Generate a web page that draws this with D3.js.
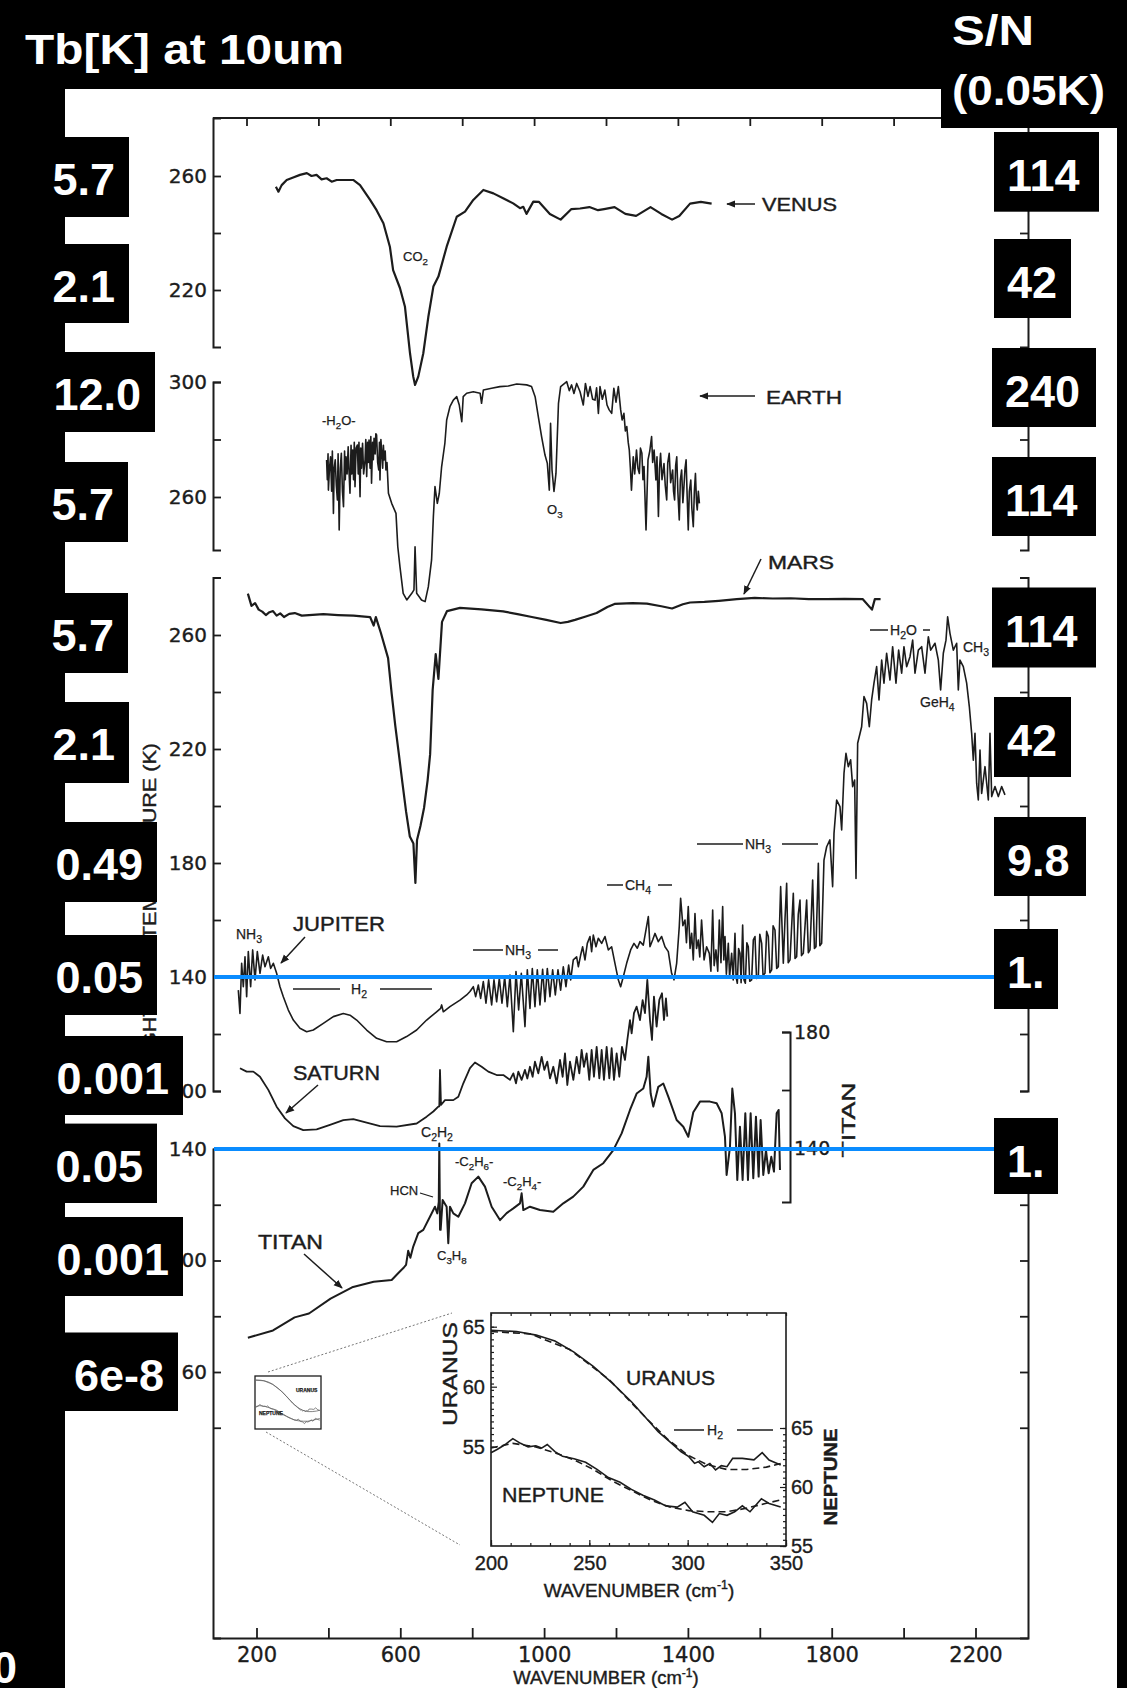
<!DOCTYPE html>
<html>
<head>
<meta charset="utf-8">
<script src="https://cdn.jsdelivr.net/npm/d3@7"></script>
<style>
  body { margin: 0; background: #000; }
  svg { display: block; }
</style>
</head>
<body>
<div id="container"></div>
<script>

// ---- spectra: [wavenumber (cm-1), brightness temperature (K)] ----
const venus = [[254,256.2],[261,254.5],[270,256.8],[284,258.6],[302,259.5],[321,260.4],[340,261],[353,260],[367,260.4],[381,258.8],[395,259.2],[409,258],[423,258.6],[469,258.6],[488,256.8],[516,251.6],[534,248],[553,243.4],[571,235.2],[580,227],[599,220.7],[613,214.1],[627,197.8],[636,189.6],[641,186.7],[650,189.6],[664,197.8],[678,210.6],[692,221.2],[706,224.7],[729,235.2],[757,245.7],[780,247.5],[803,251.6],[831,255.1],[859,253.9],[886,252.2],[914,250.4],[933,248.7],[942,249.2],[951,246.7],[970,251],[986,250.9],[1016,246.7],[1046,244.7],[1076,248.4],[1100,248.6],[1126,249.1],[1150,248],[1167,248.4],[1196,249.1],[1226,246.7],[1256,246],[1296,249.1],[1326,246.7],[1356,244.7],[1376,246],[1406,250.3],[1436,250.9],[1466,250.3]];

const earth = [[395,272.9],[397,266],[399,275],[400,262.4],[403,270],[406,274],[409,262],[411,276],[414,254.3],[416,270],[419,272.9],[422,264],[425,259],[427,275],[430,248.5],[433,270],[436,275.2],[439,262],[442,256.6],[445,276],[447,266],[449,274],[452,268],[455,277.5],[457,270],[460,261.3],[463,278],[465,268],[467.5,276.3],[470,266],[472,279],[474,263.6],[477,277],[480.5,278.1],[483,268],[485,279],[488,260.1],[490,277],[492,270],[495,278.7],[498,268],[502,272.9],[504,280],[506.5,267.1],[509,279],[511,272],[513,279.8],[516,270],[518,281],[520,264.8],[523,279],[525,273],[527,280.4],[530,275],[532,282],[534,281.6],[537,272],[540,269.4],[542,279],[543.5,265.9],[546,280],[548,276.3],[551,270],[553,278],[555,272.9],[558,276],[560,269.4],[563,272],[567,261.3],[576,257.8],[588,254.3],[593,242.7],[599,235.8],[608,226.5],[618,224.2],[632,226.5],[638,227.7],[641,242.7],[645.5,226.5],[659,224.2],[669,223.6],[678,228.8],[687,238.1],[692,253.2],[696.5,263.6],[703,257.8],[708.5,261.3],[715,270.6],[724,278.7],[729,286.8],[738,291.4],[747.5,293.7],[757,294.9],[764,292],[771,286.2],[775,294.9],[784.6,296.1],[803,296.6],[822,296.1],[826,292.6],[831,297.2],[854,297.8],[877,298.4],[900.5,298.6],[924,299.3],[951.5,299],[965,298.4],[975,294.9],[984,287.9],[993,281],[1002.5,274.6],[1009,271.7],[1014.5,262.4],[1018,285.6],[1022,269.4],[1027.5,261.9],[1033,268.2],[1040,292.6],[1046,298.4],[1063,300.1],[1070,297],[1076.5,299],[1083,296],[1090.6,299.5],[1100,296.6],[1109,292],[1115,299.5],[1122,295],[1128,298.4],[1135,294],[1141.6,293.7],[1146,298],[1151,289.1],[1155.5,298.4],[1162,294],[1169,297.2],[1175,292],[1181,290.3],[1188,289.1],[1194,297.8],[1200,293],[1206.5,298.4],[1213,290.3],[1217,286.8],[1222,289.1],[1226,283],[1230,284.5],[1234,279],[1237,276.3],[1240,270],[1243,262.4],[1248,274],[1252,268],[1257,276.3],[1261,270],[1265,268.2],[1268,277],[1272,275.2],[1275,266],[1278,270.6],[1283.5,248.5],[1289,272.9],[1294,276],[1299,281],[1302,272],[1306,276.3],[1311,265.9],[1314,274],[1318,253.2],[1321,270],[1324,275.2],[1328,266],[1333.5,271.6],[1337,264],[1341,259],[1344,272],[1348,275.2],[1352,265],[1357.6,269.4],[1360,262],[1363,259],[1366,271],[1369,274],[1372,262],[1376,252],[1379,266],[1382.6,269.4],[1386,258],[1389,263.6],[1392,270],[1395,272.9],[1398,260],[1401,248.5],[1404,262],[1408,265.9],[1411,256],[1415,249.7],[1418,262],[1421,268.2],[1424,258],[1426,255.5],[1429,262],[1432,257.8]];

const mars = [[176,274.5],[186,270.2],[196,271.2],[206,268.9],[216,268.2],[226,267],[236,268],[246,268.4],[256,266.8],[266,267.6],[276.5,266.3],[291,267.4],[306.5,267.7],[326,266.8],[346,267],[386,267.3],[427,267],[470,266.8],[516,266.3],[526,263.3],[532,266.3],[546,260.7],[566,251.9],[576,239.4],[586,228.2],[596,218.2],[606,208],[616,198.1],[626.5,189.3],[636.5,186.8],[642,173],[646.5,188.1],[656,193],[666,199.3],[676,209],[683,218.2],[690,240.7],[698.5,253.3],[706,244.6],[716,264.6],[730,268.4],[766,269.5],[826,269],[886,268.3],[926,267.3],[966,266.3],[1006,265.3],[1046,264.2],[1066,264.6],[1086,265.3],[1116,266.5],[1146,267.7],[1176,269.8],[1196,270.9],[1246,271.2],[1286,271],[1326,270.1],[1356,269.3],[1386,270.8],[1406,271.4],[1446,271.6],[1486,272],[1536,272.6],[1586,273],[1636,272.8],[1686,272.9],[1736,272.6],[1786,272.6],[1836,272.7],[1886,272.6],[1912,268.9],[1920,272.6],[1936,272.6]];

const jupiter = [[149.4,135.4],[154,127.2],[158.7,144.8],[163.3,136.6],[168,147.1],[172.6,133.1],[177.2,148.9],[183.7,136.6],[189.3,149.5],[195.8,139],[202.3,148.9],[209.7,141.3],[217.1,147.7],[223.6,143.6],[232.9,147.1],[239.3,143],[246.8,144.8],[256,141.3],[265.3,136.6],[274.6,133.1],[288.5,128.4],[302.4,124.9],[320.9,122],[339.5,120.8],[358,121.4],[385.9,123.7],[413.7,126.1],[441.5,127.2],[460,126.6],[478.6,124.9],[506.4,121.4],[534.2,118.5],[562,117.3],[589.8,117.3],[617.6,119.1],[645.5,121.4],[673.3,124.9],[701,127.8],[712.2,129],[715,130.2],[719.6,127.8],[738.2,129.6],[766,131.9],[784.6,133.7],[793.8,134.9],
  [803.1,136.6],[809.6,133.1],[817,137.2],[823.5,132.5],[830.9,138.4],[838.3,130.8],[845.7,139],[854.1,130.2],[860.6,139],[868,131.3],[875.4,139.5],[882.8,130.8],[890.3,140.1],[897.7,129.6],[905.1,140.7],[914.4,120.8],[921.8,141.9],[929.2,128.4],[936.6,141.3],[946.8,122.6],[953.3,142.5],[960.7,129],[967.2,143],[974.6,129.6],[981.1,142.5],[988.5,130.2],[995.9,142.7],[1002.4,131.3],[1008.9,143],[1016.3,133.1],[1023.8,142.5],[1031.2,133.7],[1038.6,142.5],[1046,135.4],[1053.4,143.6],[1060.8,136.6],[1068.3,144.2],[1073.9,139],[1081.2,146],[1090.5,147.1],[1095.2,143.6],[1101.7,147.7],[1107.2,150.6],[1113.7,146],[1120.2,151.8],[1127.6,154.2],[1132.2,148.9],[1136.9,154.7],[1144.3,150.6],[1150.8,153.6],[1160.1,151.8],[1169.3,154.2],[1178.6,149.5],[1187.9,150.6],[1197.1,144.8],[1206.4,139],[1212.9,136.6],[1220.3,140.1],[1229.6,144.8],[1240.7,149.5],[1250,151.8],[1259.3,150.1],[1266.7,152.4],[1275.9,151.2],[1283.4,156.5],[1289.9,161.2],[1294.5,150.6],[1301.9,153],[1308.4,155.3],[1317.7,152.4],[1326.9,154.2],[1336.2,150.6],[1345.5,148.9],[1354.7,141.3],[1361.3,139],[1368.7,144.8],[1376,157.7],[1379.8,167.6],
  [1386,158],[1391.9,160],[1396,152],[1401,164.7],[1406,150],[1410.4,155.3],[1415,146],[1419.7,162.3],[1424,150],[1429,153],[1433,147],[1438,160],[1445,146],[1452,150.6],[1459.6,148.3],[1464,142],[1468.9,163.5],[1473,144],[1478.1,149.5],[1483,142],[1487.4,160],[1492,145],[1496.7,164.7],[1500,146],[1503.2,154.2],[1507,141],[1512.4,151.8],[1516,140],[1521.7,148.3],[1526,139],[1531,155.3],[1534,140],[1537.5,137.8],[1541,150],[1544.9,148.3],[1548,138],[1552.3,158.2],[1556,139],[1559.8,137.8],[1564,152],[1568,150.6],[1572,138.5],[1577.3,139],[1582,153],[1586.6,154.2],[1591,139.5],[1595.9,140.1],[1600,155],[1605.2,151.8],[1609,140.5],[1614.4,141.3],[1619,156],[1623.7,154.2],[1628,141.5],[1633,142.5],[1637,158],[1642.2,156.5],[1647,143],[1651.5,143.6],[1658,171.7],[1665.4,144.8],[1670,160],[1674.7,172.9],[1679,145],[1684,146],[1693.2,169.4],[1698,146.5],[1702.5,147.1],[1707,162],[1711.8,167],[1716,147.5],[1721,148.3],[1730.3,167],[1735,148.5],[1739.6,149.5],[1747,174],[1752,150],[1756.3,150.6],[1762.8,179.9],[1767,151],[1772,151.8],[1778.5,181],[1786,185.7],[1795,188.1],[1802.6,171.7],[1806.4,190.4],[1813.8,202.1],[1823,199.8],[1827.7,191.6],[1834.2,211.5],[1839.7,218.5],[1846.2,213.8],[1852.7,216.2],[1858.3,206.8],[1863.8,209.1],[1867.6,174.6],[1872.2,222],[1883.3,227.8],[1889.8,238.4],[1897.2,236],[1904.6,227.8],[1911.1,237.2],[1917.6,243.1],[1925,248.9],[1931.6,237.2],[1939,251.2],[1945.4,243.1],[1952.8,253.6],[1962.1,244.2],[1969.5,255.9],[1978.8,243.1],[1986.2,254.7],[1994.6,246.6],[2001,255.9],[2008.5,248.9],[2017.8,252.4],[2025.2,258.2],[2031.7,246.6],[2041,254.7],[2050.2,255.9],[2059.5,246.6],[2068.8,259.4],[2075.3,254.7],[2087.3,257.1],[2096.6,251.2],[2103,240.7],[2110.5,253.6],[2117.9,258.2],[2122.5,266.4],[2129,260.6],[2138.3,254.7],[2147.6,257.1],[2152.2,240.7],[2156.8,251.2],[2166.1,248.9],[2175.4,243.1],[2182.8,234.9],[2189.3,225.5],[2193.9,216.1],[2198.6,225.5],[2203.2,208],[2207.8,202.1],[2212.5,219.6],[2217.1,204.4],[2226.4,213.8],[2235.7,202.1],[2240.3,225.5],[2245,203.3],[2254.2,206.8],[2263.5,203.3],[2272.8,206.8],[2282,203.9]];

// Saturn is read against the Jupiter temperature scale
const saturn = [[154,108],[172.6,106.8],[191.1,106.8],[209.7,105],[232.9,100.4],[256,94.5],[279.2,90.4],[302.4,87.7],[330.2,86.3],[367.3,86.5],[404.4,88.1],[441.5,89.8],[469.3,90.1],[506.4,88.9],[543.5,87.7],[589.8,87.5],[645.5,88.6],[673.3,91],[691.8,92.8],[705.7,94.5],[708.5,94.6],[710.4,107.4],[713.2,95.1],[724.3,96.8],[747.5,96.8],[761.4,98],[775.3,102.7],[793.8,108],[807.7,110],[826.3,108.5],[844.8,106.8],[868,105.6],[886.5,105.6],[905.1,103.9],
  [914.4,106.2],[921.8,102.7],[928.3,106.8],[937.5,103.9],[946.8,107.4],[953.3,104.4],[960.7,108.5],[968.1,105],[974.6,110.3],[983.9,106.2],[993.2,112],[1000.6,107.4],[1008.9,110.3],[1016.3,104.4],[1025.6,108.5],[1034.9,102.7],[1044.2,110.9],[1051.6,105],[1058.1,113.2],[1064.6,102.1],[1072,110.3],[1081.3,103.9],[1090.5,112],[1098,106.2],[1104.4,114.4],[1110.9,108.5],[1118.3,113.2],[1125.7,103.9],[1132.2,114.4],[1138.7,105],[1146.2,115.5],[1153.6,104.4],[1160.1,114.4],[1166.5,103.9],[1174,115.5],[1181.4,104.4],[1187.9,115],[1194.4,103.9],[1201.8,113.2],[1209.2,105],[1216.6,115.5],[1225,110.9],[1231.5,117.9],[1238.9,124.9],[1243.5,120.2],[1250,127.3],[1257.4,129.6],[1266.7,124.9],[1274.1,131.9],[1280.6,127.3],[1287.1,139],[1294.5,124.9],[1300.1,117.9],[1305.6,133.1],[1313,122.6],[1320.5,132],[1327.9,134.3],[1333.4,124.9],[1339,132.5],[1342.7,126.1]];

const titan = [[176,72.3],[246,74.9],[306,79.6],[346,81],[406,86.3],[466,90.4],[526,92.4],[576,93],[596,95.7],[610,97.5],[616,98.4],[622,103.5],[628,101],[636,105],[650,109.8],[664,111],[682.5,115.7],[696.5,119.3],[702.9,116.9],[707,121],[708.5,142],[710.5,111],[712.2,111],[717.8,121.7],[728.9,119.3],[733.5,106.2],[738.2,119.3],[747.5,116.9],[761.4,115.7],[779.9,120.5],[798.4,127.7],[817,130.1],[835.5,126.5],[854.1,119.3],[877.3,114.5],[895.8,117],[914.4,118.7],[932.9,120.5],[937.5,124.1],[942.2,118.1],[960.7,119.3],[988.5,118.1],[1025.6,117.5],[1053.4,120.5],[1081.2,122.9],[1109.1,126.5],[1136.9,132.5],[1164.7,134.9],[1192.5,139.6],[1215.7,145.6],[1238.9,154],[1257.4,159.9],[1276,161.7],[1285.2,165.9],[1289.9,173.1],[1296.4,159.9],[1303.8,155.2],[1317.7,162.3],[1331.6,163.5],[1345.5,158.8],[1368.7,150.4],[1387.2,148],[1401.1,144.4],[1415,153.2],[1433.6,157],[1461.4,157],[1480,156.4],[1493.9,152.8],[1503.1,144.4],[1507.7,130.7],[1517,140.8],[1523.5,161.7],[1530.9,152.8],[1537.4,128.9],[1544.8,148],[1552.2,128.9],[1559.7,152.8],[1567.1,128.9],[1574.5,152.8],[1581.9,129.5],[1589.3,151.6],[1596.8,130.1],[1602.3,150.4],[1609.7,130.7],[1617.2,139.6],[1624.6,131.3],[1632,137.2],[1639.4,131.9],[1646.9,152.8],[1652.4,154],[1656.1,132.5]];

// inset: Uranus / Neptune, observed and model
const uranusObs = [[200,64.7],[213,64.6],[223,64.3],[232.5,63.8],[242,62.9],[252,61.7],[261.7,60.3],[271.4,58.75],[281,57],[285,56.25],[291,55.4],[296.7,54.58],[300.6,54.17],[303.5,53.61],[305.4,53.75],[308.4,53.33],[311.3,53.6],[314.2,53.06],[317.1,53.42],[320,53.33],[322.9,54.03],[327.8,54.03],[333.7,53.9],[337.9,54.5],[341.4,53.89],[347.3,53.47]];
const uranusModel = [[200,64.6],[220,64.4],[240,63.1],[260,60.6],[280,57.2],[290,55.6],[300,54.3],[310,53.5],[320,53.1],[330,53.1],[340,53.3],[347.3,53.6]];
const neptuneObs = [[200,62.9],[203.3,63.2],[207.2,63.6],[211.1,64.1],[215,63.7],[218.9,63.4],[222.8,63.5],[225.7,63.3],[228.6,63.6],[232.5,63],[236.4,62.6],[242.2,62.4],[248.1,62.1],[253.9,61.5],[259.7,60.8],[265.6,60.4],[271.4,59.8],[277.2,59.3],[283.1,58.9],[288.9,58.4],[294.7,58.3],[298.6,58.7],[302.5,57.9],[308.4,57.6],[312.6,57],[316.1,57.75],[320,57.6],[323.9,57.9],[327.8,58.4],[331.7,57.9],[337.5,59],[341.4,58.6],[347.3,58.3]];
const neptuneModel = [[200,63.3],[211.1,63.7],[222.8,63.4],[232.5,62.9],[242.2,62.3],[251.9,61.5],[261.7,60.5],[271.4,59.7],[281.1,58.9],[290.9,58.3],[300.6,58],[310.3,57.9],[320,57.9],[329.8,58.2],[339.5,58.6],[347.3,58.9]];

// axis ticks
const xTicks = d3.range(200, 2201, 200);
const xLabels = [200, 600, 1000, 1400, 1800, 2200];
const insetXTicks = [200, 250, 300, 350];
const insetYTicks = [55, 60, 65];

// annotation boxes (values written beside the temperature tick labels)
const tbAt10um = ["5.7", "2.1", "12.0", "5.7", "5.7", "2.1", "0.49", "0.05", "0.001", "0.05", "0.001", "6e-8"];
const snRatio = ["114", "42", "240", "114", "114", "42", "9.8", "1.", "1."];

// ---- layout ----
const width = 1127, height = 1688;
const ink = "#1c1c1c";
const plotLeft = 213, plotRight = 1028, plotTop = 118, plotBottom = 1638;

const svg = d3.select("#container").append("svg")
    .attr("width", width)
    .attr("height", height);

svg.append("rect").attr("width", width).attr("height", height).attr("fill", "#000");
svg.append("rect").attr("x", 65).attr("y", 89).attr("width", 1052).attr("height", height - 89).attr("fill", "#fff");

const defs = svg.append("defs");
defs.append("marker")
    .attr("id", "head")
    .attr("viewBox", "0 0 10 10")
    .attr("refX", 9).attr("refY", 5)
    .attr("markerWidth", 6).attr("markerHeight", 6)
    .attr("orient", "auto")
  .append("path")
    .attr("d", "M0,1L10,5L0,9z")
    .attr("fill", ink);

// x scale: wavenumber
const x = d3.scaleLinear().domain([200, 2200]).range([256.5, 975.5]);
const xFrame = x.copy().domain([x.invert(plotLeft), x.invert(plotRight)]).range([plotLeft, plotRight]);

// y scales, one per stacked panel
const yVenus = d3.scaleLinear().domain([220, 260]).range([290, 176]);
const yEarth = d3.scaleLinear().domain([260, 300]).range([497, 382]);
const yJupiter = d3.scaleLinear().domain([100, 260]).range([1091, 635]);
const yTitan = d3.scaleLinear().domain([60, 140]).range([1372, 1149]);
const yTitanBracket = d3.scaleLinear().domain([140, 180]).range([1148, 1032]);

const segments = [
  { s: yVenus, top: plotTop, bottom: 347, ticks: [220, 240, 260], labels: [220, 260] },
  { s: yEarth, top: 382, bottom: 550, ticks: [260, 280, 300], labels: [260, 300] },
  { s: yJupiter, top: 577.5, bottom: 1091, ticks: d3.range(100, 261, 20), labels: [100, 140, 180, 220, 260] },
  { s: yTitan, top: 1149, bottom: plotBottom, ticks: d3.range(40, 141, 20), labels: [60, 100, 140] }
];

const fig = svg.append("g");

function styleAxis(g, size) {
  g.attr("font-family", "DejaVu Sans").attr("font-size", size).attr("color", ink);
  g.select(".domain").attr("stroke-width", 2);
  g.selectAll(".tick line").attr("stroke-width", 1.8);
  g.selectAll(".tick text").attr("stroke", ink).attr("stroke-width", 0.35);
  g.selectAll(".tick text").filter(function() { return this.textContent === ""; }).remove();
}

// left and right axes, drawn as separate bracketed segments
segments.forEach(seg => {
  const sc = seg.s.copy().domain([seg.s.invert(seg.bottom), seg.s.invert(seg.top)]).range([seg.bottom, seg.top]);
  fig.append("g")
      .attr("transform", `translate(${plotLeft},0)`)
      .call(d3.axisLeft(sc).tickValues(seg.ticks).tickSize(-8).tickSizeOuter(-8).tickPadding(6)
        .tickFormat(d => seg.labels.includes(d) ? d : ""))
      .call(g => styleAxis(g, 20));
  fig.append("g")
      .attr("transform", `translate(${plotRight},0)`)
      .call(d3.axisRight(sc).tickValues(seg.ticks).tickSize(-8).tickSizeOuter(-8).tickFormat(""))
      .call(g => styleAxis(g, 20));
});

// top frame line and its (slightly shifted) ticks
fig.append("line")
    .attr("x1", plotLeft).attr("x2", plotRight)
    .attr("y1", plotTop).attr("y2", plotTop)
    .attr("stroke", ink).attr("stroke-width", 2);
fig.append("g")
    .attr("transform", `translate(-10,${plotTop})`)
    .call(d3.axisTop(xFrame).tickValues(xTicks).tickSize(-8).tickFormat(""))
    .call(g => g.select(".domain").remove())
    .call(g => styleAxis(g, 20));

// bottom axis
fig.append("g")
    .attr("transform", `translate(0,${plotBottom})`)
    .call(d3.axisBottom(xFrame).tickValues(xTicks).tickSize(-10).tickSizeOuter(0).tickPadding(9)
      .tickFormat(d => xLabels.includes(d) ? d : ""))
    .call(g => styleAxis(g, 21));

// Titan's own bracket axis
fig.append("g")
    .attr("transform", "translate(790,0)")
    .call(d3.axisRight(yTitanBracket.copy().domain([121.4, 180]).range([1202, 1032]))
      .tickValues([140, 160, 180]).tickSize(-8).tickSizeOuter(-8).tickPadding(4)
      .tickFormat(d => d === 160 ? "" : d))
    .call(g => styleAxis(g, 19));

// ---- text helper (supports _n subscripts and ^n superscripts) ----
function label(g, px, py, s, size, opt = {}) {
  const t = g.append("text")
      .attr("x", px).attr("y", py)
      .attr("font-family", opt.family || "Liberation Sans")
      .attr("font-size", size)
      .attr("fill", opt.fill || ink)
      .attr("stroke", opt.fill || ink)
      .attr("stroke-width", size > 15 ? 0.4 : 0.25)
      .attr("text-anchor", opt.anchor || "start");
  if (opt.weight) t.attr("font-weight", opt.weight);
  if (opt.rotate) t.attr("transform", `rotate(${opt.rotate},${px},${py})`);
  let cur = 0;
  s.match(/_[0-9]|\^[-0-9]+|[^_^]+/g).forEach(part => {
    let txt = part, off = 0, fs = size;
    if (part[0] === "_") { txt = part.slice(1); off = size * 0.3; fs = size * 0.75; }
    else if (part[0] === "^") { txt = part.slice(1); off = -size * 0.4; fs = size * 0.65; }
    t.append("tspan").attr("dy", off - cur).attr("font-size", fs).text(txt);
    cur = off;
  });
  if (opt.len) t.attr("textLength", opt.len).attr("lengthAdjust", "spacingAndGlyphs");
  return t;
}
function seg(g, x1, y1, x2, y2, arrow, w = 1.5) {
  const l = g.append("line")
      .attr("x1", x1).attr("y1", y1).attr("x2", x2).attr("y2", y2)
      .attr("stroke", ink).attr("stroke-width", w);
  if (arrow) l.attr("marker-end", "url(#head)");
}

// rotated y-axis title (mostly covered by the annotation boxes)
label(fig, 156, 743, "BRIGHTNESS TEMPERATURE (K)", 19, { anchor: "end", rotate: -90, len: 342 });

// ---- spectra ----
const series = [
  { data: venus, y: yVenus, w: 2.2 },
  { data: earth, y: yEarth, w: 1.6 },
  { data: mars, y: yJupiter, w: 2.2 },
  { data: jupiter, y: yJupiter, w: 1.6 },
  { data: saturn, y: yJupiter, w: 1.8 },
  { data: titan, y: yTitan, w: 2 }
];
series.forEach(sr => {
  fig.append("path")
      .datum(sr.data)
      .attr("fill", "none")
      .attr("stroke", ink)
      .attr("stroke-width", sr.w)
      .attr("stroke-linejoin", "round")
      .attr("d", d3.line().x(d => x(d[0])).y(d => sr.y(d[1])));
});

// ---- labels on the figure ----
label(fig, 762, 211, "VENUS", 18, { len: 75 });
seg(fig, 755, 204, 727, 204, true);
label(fig, 766, 404, "EARTH", 18, { len: 76 });
seg(fig, 755, 396, 700, 396, true);
label(fig, 768, 569, "MARS", 18, { len: 66 });
seg(fig, 761, 559, 744, 594, true);
label(fig, 403, 261, "CO_2", 13);
label(fig, 322, 425, "-H_2O-", 13);
label(fig, 547, 514, "O_3", 13);

label(fig, 293, 931, "JUPITER", 20, { len: 92 });
seg(fig, 305, 937, 281, 963, true);
label(fig, 236, 939, "NH_3", 14);
label(fig, 351, 994, "H_2", 14);
seg(fig, 293, 989, 340, 989); seg(fig, 380, 989, 432, 989);
label(fig, 505, 955, "NH_3", 14);
seg(fig, 473, 950, 503, 950); seg(fig, 538, 950, 558, 950);
label(fig, 625, 890, "CH_4", 14);
seg(fig, 607, 885, 623, 885); seg(fig, 658, 885, 672, 885);
label(fig, 745, 849, "NH_3", 14);
seg(fig, 697, 844, 743, 844); seg(fig, 782, 844, 818, 844);
label(fig, 890, 635, "H_2O", 14);
seg(fig, 870, 630, 888, 630); seg(fig, 923, 630, 930, 630);
label(fig, 963, 652, "CH_3", 14);
label(fig, 920, 707, "GeH_4", 14);

label(fig, 293, 1080, "SATURN", 20, { len: 87 });
seg(fig, 318, 1085, 286, 1113, true);
label(fig, 421, 1137, "C_2H_2", 14);
label(fig, 390, 1195, "HCN", 13);
seg(fig, 420, 1193, 433, 1197, false, 1.2);
label(fig, 455, 1166, "-C_2H_6-", 13);
label(fig, 503, 1186, "-C_2H_4-", 13);
label(fig, 437, 1260, "C_3H_8", 13);
label(fig, 258, 1249, "TITAN", 20, { len: 65 });
seg(fig, 304, 1254, 342, 1288, true);
label(fig, 855, 1120, "TITAN", 18, { anchor: "middle", rotate: -90, len: 75 });

label(fig, 606, 1684, "WAVENUMBER (cm^-1)", 18.5, { anchor: "middle" });

// ---- inset ----
const xi = d3.scaleLinear().domain([200, 350]).range([491, 786]);
const yU = d3.scaleLinear().domain([55, 65]).range([1446.7, 1326.7]);
const yN = d3.scaleLinear().domain([55, 65]).range([1546, 1428]);
const inset = svg.append("g");

// zoom guide lines from the thumbnail
inset.append("line").attr("x1", 268).attr("y1", 1372).attr("x2", 452).attr("y2", 1313)
    .attr("stroke", "#777").attr("stroke-width", 1).attr("stroke-dasharray", "2,2");
inset.append("line").attr("x1", 266).attr("y1", 1432).attr("x2", 460).attr("y2", 1545)
    .attr("stroke", "#777").attr("stroke-width", 1).attr("stroke-dasharray", "2,2");

inset.append("rect").attr("x", 491).attr("y", 1313).attr("width", 295).attr("height", 233)
    .attr("fill", "none").attr("stroke", ink).attr("stroke-width", 1.6);

function insetAxis(axis, tx, ty, size) {
  inset.append("g").attr("transform", `translate(${tx},${ty})`)
      .call(axis)
      .call(g => g.select(".domain").remove())
      .call(g => g.attr("font-family", "Liberation Sans").attr("font-size", size).attr("color", ink))
      .call(g => g.selectAll(".tick line").attr("stroke-width", 1.2))
      .call(g => g.selectAll(".tick text").attr("stroke", ink).attr("stroke-width", 0.35))
      .call(g => g.selectAll(".tick text").filter(function() { return this.textContent === ""; }).remove());
}
insetAxis(d3.axisLeft(yU).tickValues(insetYTicks).tickSize(-6).tickPadding(6), 491, 0, 20);
insetAxis(d3.axisLeft(yU.copy().domain([47, 66])).tickValues(d3.range(47, 67)).tickSize(-3).tickFormat(""), 491, 0, 20);
insetAxis(d3.axisRight(yN).tickValues(insetYTicks).tickSize(-6).tickPadding(5), 786, 0, 20);
insetAxis(d3.axisRight(yN.copy().domain([55, 74])).tickValues(d3.range(55, 75)).tickSize(-3).tickFormat(""), 786, 0, 20);
insetAxis(d3.axisBottom(xi).tickValues(insetXTicks).tickSize(-6).tickPadding(10), 0, 1546, 20);
insetAxis(d3.axisBottom(xi).tickValues(d3.range(200, 351, 10)).tickSize(-3).tickFormat(""), 0, 1546, 20);
insetAxis(d3.axisTop(xi).tickValues(d3.range(200, 351, 10)).tickSize(-3).tickFormat(""), 0, 1313, 20);

const insetSeries = [
  { data: uranusObs, y: yU, dash: null },
  { data: uranusModel, y: yU, dash: "7,4" },
  { data: neptuneObs, y: yN, dash: null },
  { data: neptuneModel, y: yN, dash: "7,4" }
];
insetSeries.forEach(sr => {
  inset.append("path")
      .datum(sr.data)
      .attr("fill", "none")
      .attr("stroke", ink)
      .attr("stroke-width", 1.6)
      .attr("stroke-dasharray", sr.dash)
      .attr("d", d3.line().x(d => xi(d[0])).y(d => sr.y(d[1])));
});

label(inset, 626, 1385, "URANUS", 20, { len: 89 });
label(inset, 502, 1502, "NEPTUNE", 20, { len: 102 });
label(inset, 707, 1435, "H_2", 14);
seg(inset, 674, 1430, 704, 1430); seg(inset, 737, 1430, 773, 1430);
label(inset, 457, 1374, "URANUS", 21, { anchor: "middle", rotate: -90, len: 104 });
label(inset, 837, 1477, "NEPTUNE", 19, { anchor: "middle", rotate: -90, len: 97, weight: "bold" });
label(inset, 639, 1597, "WAVENUMBER (cm^-1)", 19, { anchor: "middle" });

// thumbnail of the inset
const xm = d3.scaleLinear().domain([200, 350]).range([255, 321]);
const yUm = d3.scaleLinear().domain([yU.invert(1546), yU.invert(1313)]).range([1429, 1376]);
const yNm = d3.scaleLinear().domain([yN.invert(1546), yN.invert(1313)]).range([1429, 1376]);
inset.append("rect").attr("x", 255).attr("y", 1376).attr("width", 66).attr("height", 53)
    .attr("fill", "#fff").attr("stroke", ink).attr("stroke-width", 1.3);
[[uranusObs, yUm], [uranusModel, yUm], [neptuneObs, yNm], [neptuneModel, yNm]].forEach(([d, ys]) => {
  inset.append("path").datum(d)
      .attr("fill", "none").attr("stroke", "#666").attr("stroke-width", 0.8)
      .attr("d", d3.line().x(p => xm(p[0])).y(p => ys(p[1])));
});
label(inset, 296, 1392, "URANUS", 5, { weight: "bold" });
label(inset, 259, 1415, "NEPTUNE", 5, { weight: "bold" });

// ---- blue reference lines at 140 K ----
[yJupiter(140), yTitan(140)].forEach(yy => {
  svg.append("line")
      .attr("x1", 214).attr("x2", 994)
      .attr("y1", yy).attr("y2", yy)
      .attr("stroke", "#0a8cff").attr("stroke-width", 4);
});

// ---- black annotation boxes ----
const leftBoxes = [[137,217,129],[244,323,129],[352,432,155],[462,542,128],[593,673,128],[702,783,129],[822,902,157],[935,1015,157],[1036,1115,183],[1123.6,1203,157],[1217,1296,183],[1332.5,1411,178]];
const rightBoxes = [[132,211.7,994,1099],[239,318,994,1071],[348,427,992,1096],[457,536,992,1096],[587.5,667.5,992,1096],[697,777,994,1071],[817,896,994,1086],[929,1009,994,1058],[1118,1194,994,1058]];
const ann = svg.append("g").attr("font-family", "Liberation Sans").attr("font-weight", "bold").attr("fill", "#fff");

tbAt10um.forEach((v, i) => {
  const [t, b, r] = leftBoxes[i];
  ann.append("rect").attr("x", 0).attr("y", t).attr("width", r).attr("height", b - t).attr("fill", "#000");
  ann.append("text").attr("x", r - 14).attr("y", t + 58).attr("text-anchor", "end").attr("font-size", 45).text(v);
});
snRatio.forEach((v, i) => {
  const [t, b, l, r] = rightBoxes[i];
  ann.append("rect").attr("x", l).attr("y", t).attr("width", r - l).attr("height", b - t).attr("fill", "#000");
  ann.append("text").attr("x", l + 13).attr("y", t + 59).attr("font-size", 45).text(v);
});

// header
ann.append("rect").attr("x", 941).attr("y", 0).attr("width", 186).attr("height", 128).attr("fill", "#000");
ann.append("text").attr("x", 25).attr("y", 64).attr("font-size", 43)
    .attr("textLength", 319).attr("lengthAdjust", "spacingAndGlyphs").text("Tb[K] at 10um");
ann.append("text").attr("x", 952).attr("y", 45).attr("font-size", 42)
    .attr("textLength", 82).attr("lengthAdjust", "spacingAndGlyphs").text("S/N");
ann.append("text").attr("x", 952).attr("y", 105).attr("font-size", 42)
    .attr("textLength", 153).attr("lengthAdjust", "spacingAndGlyphs").text("(0.05K)");
ann.append("text").attr("x", 17).attr("y", 1683).attr("text-anchor", "end").attr("font-size", 44).text("0");

</script>
</body>
</html>
